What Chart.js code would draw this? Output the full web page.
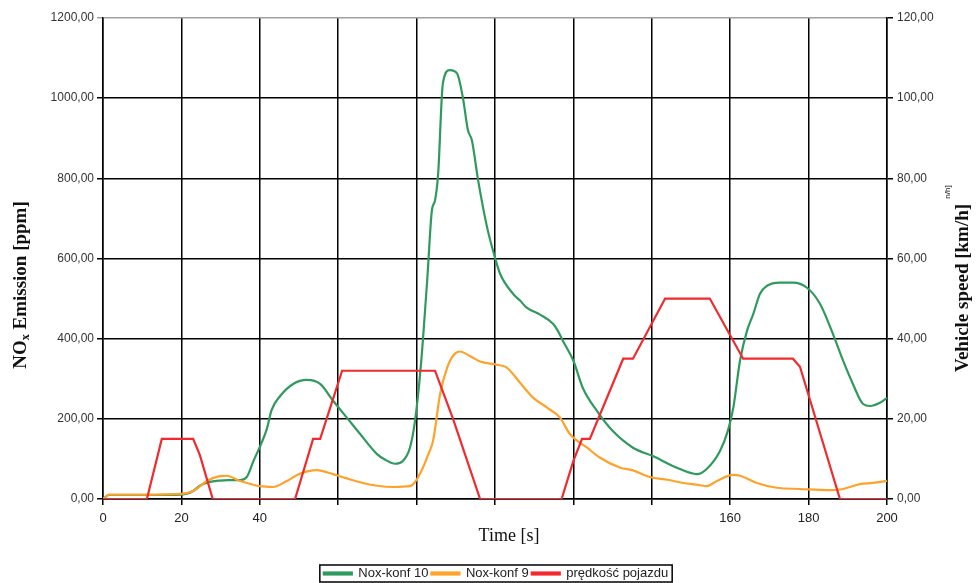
<!DOCTYPE html>
<html>
<head>
<meta charset="utf-8">
<script src="https://cdn.jsdelivr.net/npm/chart.js@4"></script>
<style>
  html, body { margin: 0; padding: 0; background: #fff; }
</style>
</head>
<body>
<canvas id="chart" width="978" height="583"></canvas>
<script>
// NOx konf 10 [ppm]
const nox10Time = [0, 1.5, 10, 20, 21.4, 23, 24.7, 27, 29.8, 32, 35, 36.7, 38.4, 40, 41.8, 43, 45.2, 48.5, 52, 55.4, 58.7, 62.2, 65.6, 69.9, 72, 74.5, 76.5, 78.3, 79.6, 80.9, 81.6, 82.7, 83.9, 84.7, 85.5, 86.7, 88.5, 90.3, 91.8, 93.1, 94.1, 95.7, 98, 100, 101.3, 104.6, 106.4, 108, 111.5, 114.8, 116, 117.3, 120, 122.4, 126, 130, 135.2, 140.3, 146.4, 151.5, 154, 157.4, 159.4, 160.8, 162.5, 164.3, 165.9, 167.6, 169.4, 172.7, 176, 179.6, 182.9, 186.2, 188.8, 191.3, 193.9, 195.7, 198.2, 200];
const nox10 = [0, 10, 10, 11, 13, 20, 33, 42, 46, 47, 47, 55, 95, 130, 175, 222, 257, 287, 297, 287, 245, 203, 162, 112, 98, 88, 95, 128, 195, 312, 395, 545, 720, 745, 812, 1037, 1070, 1062, 1002, 920, 895, 795, 677, 602, 562, 512, 495, 478, 460, 437, 420, 395, 345, 277, 220, 170, 128, 107, 78, 62, 75, 120, 170, 228, 345, 420, 462, 512, 532, 540, 540, 527, 487, 412, 345, 287, 237, 232, 240, 252];

// NOx konf 9 [ppm]
const nox9Time = [0, 1.5, 10, 20, 23, 26.5, 29.8, 31.5, 35, 40, 43.4, 46.9, 50.2, 54.5, 58.7, 62, 66.3, 70, 74, 78.3, 79.6, 81.6, 83, 84.2, 86, 87.8, 89.5, 91, 93.6, 96.2, 100.5, 103, 106.4, 109.7, 113.3, 116.6, 119.1, 123.5, 126.8, 132, 135, 139.5, 144, 148, 152, 154, 156.6, 160.8, 162.5, 166.8, 171.9, 177.8, 185.5, 188.8, 193.1, 196.4, 200];
const nox9 = [0, 11, 11, 13, 20, 45, 57, 58, 45, 32, 30, 45, 63, 72, 62, 52, 40, 33, 30, 32, 42, 78, 112, 145, 262, 328, 360, 368, 357, 343, 335, 328, 290, 253, 228, 203, 162, 128, 103, 78, 72, 55, 48, 40, 35, 32, 45, 60, 58, 40, 28, 25, 22, 25, 37, 40, 45];

// vehicle speed [km/h]
const speedTime = [0, 11.2, 15, 23, 24.7, 28, 49, 53.6, 55.4, 61, 84.7, 89.3, 96.2, 117, 120, 122.2, 124.2, 132.7, 135.2, 143.4, 154.8, 163.3, 176, 177.8, 188, 200];
const speed = [0, 0, 15, 15, 11, 0, 0, 15, 15, 32, 32, 20, 0, 0, 9.5, 15, 15, 35, 35, 50, 50, 35, 35, 33, 0, 0];

const seriesNames = ['Nox-konf 10', 'Nox-konf 9', 'prędkość pojazdu'];
const xTickLabels = [0, 20, 40, 160, 180, 200];

const toPoints = (t, v) => t.map((x, i) => ({ x: x, y: v[i] }));
const fmt = (v) => v.toFixed(2).replace('.', ',');

// nudge the legend a little lower/right, like in the original
const legendShift = {
  id: 'legendShift',
  afterLayout(chart) {
    const lg = chart.legend;
    lg.top += 7; lg.bottom += 7;
    lg.left += 7; lg.right += 7;
  }
};

const titles = {
  id: 'titles',
  afterDraw(chart) {
    const ctx = chart.ctx;
    ctx.save();
    ctx.fillStyle = '#111';
    ctx.textBaseline = 'middle';

    // left title with subscript x
    ctx.font = 'bold 19px "Liberation Serif"';
    const a = 'NO', b = 'x', c = ' Emission [ppm]';
    const wa = ctx.measureText(a).width;
    const wc = ctx.measureText(c).width;
    ctx.font = 'bold 12px "Liberation Serif"';
    const wb = ctx.measureText(b).width;
    const total = wa + wb + wc;
    ctx.translate(21, 285);
    ctx.rotate(-Math.PI / 2);
    ctx.textAlign = 'left';
    ctx.font = 'bold 19px "Liberation Serif"';
    ctx.fillText(a, -total / 2, 0);
    ctx.font = 'bold 12px "Liberation Serif"';
    ctx.fillText(b, -total / 2 + wa, 5);
    ctx.font = 'bold 19px "Liberation Serif"';
    ctx.fillText(c, -total / 2 + wa + wb, 0);
    ctx.setTransform(1, 0, 0, 1, 0, 0);

    // right title
    ctx.textAlign = 'center';
    ctx.translate(963, 288);
    ctx.rotate(-Math.PI / 2);
    ctx.fillText('Vehicle speed [km/h]', 0, 0);
    ctx.setTransform(1, 0, 0, 1, 0, 0);

    // small leftover label
    ctx.font = '8px "Liberation Sans"';
    ctx.translate(948, 192);
    ctx.rotate(-Math.PI / 2);
    ctx.fillText('n/h]', 0, 0);
    ctx.setTransform(1, 0, 0, 1, 0, 0);

    // x title
    ctx.font = '18px "Liberation Serif"';
    ctx.fillText('Time [s]', 509, 536);

    // legend frame
    const boxes = chart.legend.legendHitBoxes;
    if (boxes && boxes.length) {
      const l = Math.min(...boxes.map(h => h.left)) - 4;
      const r = Math.max(...boxes.map(h => h.left + h.width)) + 4;
      const t = boxes[0].top - 2;
      const bt = boxes[0].top + boxes[0].height + 2;
      ctx.strokeStyle = '#000';
      ctx.lineWidth = 1.5;
      ctx.strokeRect(l, t, r - l, bt - t);
    }
    ctx.restore();
  }
};

new Chart(document.getElementById('chart'), {
  type: 'line',
  data: {
    datasets: [
      {
        label: seriesNames[0],
        data: toPoints(nox10Time, nox10),
        borderColor: '#2f9a5e',
        backgroundColor: '#2f9a5e',
        borderWidth: 2.2,
        pointRadius: 0,
        cubicInterpolationMode: 'monotone',
        yAxisID: 'y',
        order: 2
      },
      {
        label: seriesNames[1],
        data: toPoints(nox9Time, nox9),
        borderColor: '#ffa22a',
        backgroundColor: '#ffa22a',
        borderWidth: 2.2,
        pointRadius: 0,
        cubicInterpolationMode: 'monotone',
        yAxisID: 'y',
        order: 1
      },
      {
        label: seriesNames[2],
        data: toPoints(speedTime, speed),
        borderColor: '#f02a2e',
        backgroundColor: '#f02a2e',
        borderWidth: 2.2,
        pointRadius: 0,
        tension: 0,
        yAxisID: 'y1',
        order: 0
      }
    ]
  },
  options: {
    responsive: false,
    animation: false,
    layout: { padding: { top: 18, left: 0, right: 0, bottom: 0 } },
    plugins: {
      tooltip: { enabled: false },
      legend: {
        position: 'bottom',
        labels: {
          boxWidth: 28,
          boxHeight: 2,
          padding: 3,
          color: '#222',
          font: { family: 'Liberation Sans', size: 13 },
          sort: (a, b) => a.datasetIndex - b.datasetIndex
        }
      }
    },
    scales: {
      x: {
        type: 'linear',
        min: 0,
        max: 200,
        ticks: {
          stepSize: 20,
          color: '#222',
          font: { family: 'Liberation Sans', size: 13 },
          maxRotation: 0,
          padding: 6,
          callback: (v) => xTickLabels.includes(v) ? String(v) : ''
        },
        grid: { color: '#000', lineWidth: 1.5, tickLength: 6 },
        border: { color: '#000', width: 1.5 },
        afterFit: (s) => { s.height = 58; }
      },
      y: {
        position: 'left',
        min: 0,
        max: 1200,
        ticks: {
          stepSize: 200,
          color: '#333',
          font: { family: 'Liberation Sans', size: 12 },
          padding: 3,
          callback: (v) => fmt(v)
        },
        grid: {
          color: (c) => c.tick && c.tick.value === 1200 ? '#a0a0a0' : '#000',
          lineWidth: 1.5,
          tickLength: 6
        },
        border: { color: '#000', width: 1.5 },
        afterFit: (s) => { s.width = 103; }
      },
      y1: {
        position: 'right',
        min: 0,
        max: 120,
        ticks: {
          stepSize: 20,
          color: '#333',
          font: { family: 'Liberation Sans', size: 12 },
          padding: 4,
          callback: (v) => fmt(v)
        },
        grid: { drawOnChartArea: false, color: '#000', lineWidth: 1.5, tickLength: 6 },
        border: { color: '#000', width: 1.5 },
        afterFit: (s) => { s.width = 91; }
      }
    }
  },
  plugins: [legendShift, titles]
});
</script>
</body>
</html>
